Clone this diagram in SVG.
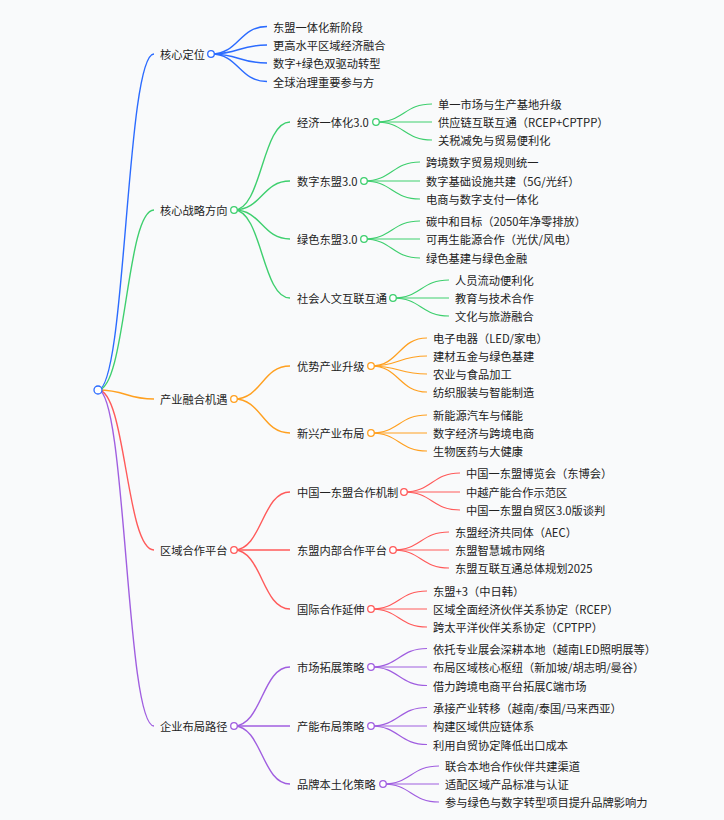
<svg xmlns="http://www.w3.org/2000/svg" width="724" height="820" viewBox="0 0 724 820">
<style>
text{font-family:"Noto Sans CJK SC","Noto Sans",sans-serif;font-size:11.25px;fill:#222;dominant-baseline:central}
path{fill:none;stroke-width:1.4}
.lf path{stroke-width:1.2}
circle{fill:#fff;stroke-width:1.3}
.b{stroke:#2b6bff}.g{stroke:#3ecf6e}.o{stroke:#ffa020}.r{stroke:#ff5a5a}.p{stroke:#a05ee0}
</style>
<rect width="724" height="820" fill="#f9fafb"/>
<g id="connectors">
<path class="b" d="M98,390 C126,390 126,54 154,54"/>
<path class="g" d="M98,390 C126,390 126,210 154,210"/>
<path class="o" d="M98,390 C126,390 126,399 154,399"/>
<path class="r" d="M98,390 C126,390 126,550 154,550"/>
<path class="p" d="M98,390 C126,390 126,726 154,726"/>
<path class="b" d="M211,54 C239,54 239,26.5 267,26.5"/>
<path class="b" d="M211,54 C239,54 239,45 267,45"/>
<path class="b" d="M211,54 C239,54 239,63 267,63"/>
<path class="b" d="M211,54 C239,54 239,81.5 267,81.5"/>
<path class="g" d="M234,210 C262,210 262,122 290,122"/>
<path class="g" d="M234,210 C262,210 262,181 290,181"/>
<path class="g" d="M234,210 C262,210 262,239 290,239"/>
<path class="g" d="M234,210 C262,210 262,298 290,298"/>
<path class="o" d="M234,399 C262,399 262,366 290,366"/>
<path class="o" d="M234,399 C262,399 262,433 290,433"/>
<path class="r" d="M234,550 C262,550 262,492 290,492"/>
<path class="r" d="M234,550 C262,550 262,550 290,550"/>
<path class="r" d="M234,550 C262,550 262,609 290,609"/>
<path class="p" d="M234,726 C262,726 262,667 290,667"/>
<path class="p" d="M234,726 C262,726 262,726 290,726"/>
<path class="p" d="M234,726 C262,726 262,784 290,784"/>
<g class="lf">
<path class="g" d="M376,122 C404,122 404,104 432,104"/>
<path class="g" d="M376,122 C404,122 404,122 432,122"/>
<path class="g" d="M376,122 C404,122 404,140 432,140"/>
<path class="g" d="M364,181 C392,181 392,162 420,162"/>
<path class="g" d="M364,181 C392,181 392,181 420,181"/>
<path class="g" d="M364,181 C392,181 392,199 420,199"/>
<path class="g" d="M364,239 C392,239 392,221 420,221"/>
<path class="g" d="M364,239 C392,239 392,239 420,239"/>
<path class="g" d="M364,239 C392,239 392,258 420,258"/>
<path class="g" d="M393,298 C421,298 421,280 449,280"/>
<path class="g" d="M393,298 C421,298 421,298 449,298"/>
<path class="g" d="M393,298 C421,298 421,316 449,316"/>
<path class="o" d="M371,366 C399,366 399,338 427,338"/>
<path class="o" d="M371,366 C399,366 399,356 427,356"/>
<path class="o" d="M371,366 C399,366 399,374 427,374"/>
<path class="o" d="M371,366 C399,366 399,392 427,392"/>
<path class="o" d="M371,433 C399,433 399,415 427,415"/>
<path class="o" d="M371,433 C399,433 399,433 427,433"/>
<path class="o" d="M371,433 C399,433 399,451 427,451"/>
<path class="r" d="M404,492 C432,492 432,473 460,473"/>
<path class="r" d="M404,492 C432,492 432,492 460,492"/>
<path class="r" d="M404,492 C432,492 432,510 460,510"/>
<path class="r" d="M393,550 C421,550 421,532 449,532"/>
<path class="r" d="M393,550 C421,550 421,550 449,550"/>
<path class="r" d="M393,550 C421,550 421,568 449,568"/>
<path class="r" d="M371,609 C399,609 399,591 427,591"/>
<path class="r" d="M371,609 C399,609 399,609 427,609"/>
<path class="r" d="M371,609 C399,609 399,627 427,627"/>
<path class="p" d="M371,667 C399,667 399,648.5 427,648.5"/>
<path class="p" d="M371,667 C399,667 399,667 427,667"/>
<path class="p" d="M371,667 C399,667 399,685.5 427,685.5"/>
<path class="p" d="M371,726 C399,726 399,707.5 427,707.5"/>
<path class="p" d="M371,726 C399,726 399,726 427,726"/>
<path class="p" d="M371,726 C399,726 399,744.5 427,744.5"/>
<path class="p" d="M383,784 C411,784 411,766 439,766"/>
<path class="p" d="M383,784 C411,784 411,784 439,784"/>
<path class="p" d="M383,784 C411,784 411,802 439,802"/>
</g>
</g>
<g id="root"><circle class="b" cx="98" cy="390" r="4" stroke-width="1.5"/></g>
<g id="n1"><text x="160" y="54">核心定位</text><circle class="b" cx="211" cy="54" r="3.3"/></g>
<g id="n1-1"><text x="273" y="26.5">东盟一体化新阶段</text></g>
<g id="n1-2"><text x="273" y="45">更高水平区域经济融合</text></g>
<g id="n1-3"><text x="273" y="63">数字+绿色双驱动转型</text></g>
<g id="n1-4"><text x="273" y="81.5">全球治理重要参与方</text></g>
<g id="n2"><text x="160" y="210">核心战略方向</text><circle class="g" cx="234" cy="210" r="3.3"/></g>
<g id="n2-1"><text x="297" y="122">经济一体化3.0</text><circle class="g" cx="376" cy="122" r="3.3"/></g>
<g id="n2-1-1"><text x="438" y="104">单一市场与生产基地升级</text></g>
<g id="n2-1-2"><text x="438" y="122">供应链互联互通（RCEP+CPTPP）</text></g>
<g id="n2-1-3"><text x="438" y="140">关税减免与贸易便利化</text></g>
<g id="n2-2"><text x="297" y="181">数字东盟3.0</text><circle class="g" cx="364" cy="181" r="3.3"/></g>
<g id="n2-2-1"><text x="426" y="162">跨境数字贸易规则统一</text></g>
<g id="n2-2-2"><text x="426" y="181">数字基础设施共建（5G/光纤）</text></g>
<g id="n2-2-3"><text x="426" y="199">电商与数字支付一体化</text></g>
<g id="n2-3"><text x="297" y="239">绿色东盟3.0</text><circle class="g" cx="364" cy="239" r="3.3"/></g>
<g id="n2-3-1"><text x="426" y="221">碳中和目标（2050年净零排放）</text></g>
<g id="n2-3-2"><text x="426" y="239">可再生能源合作（光伏/风电）</text></g>
<g id="n2-3-3"><text x="426" y="258">绿色基建与绿色金融</text></g>
<g id="n2-4"><text x="297" y="298">社会人文互联互通</text><circle class="g" cx="393" cy="298" r="3.3"/></g>
<g id="n2-4-1"><text x="455" y="280">人员流动便利化</text></g>
<g id="n2-4-2"><text x="455" y="298">教育与技术合作</text></g>
<g id="n2-4-3"><text x="455" y="316">文化与旅游融合</text></g>
<g id="n3"><text x="160" y="399">产业融合机遇</text><circle class="o" cx="234" cy="399" r="3.3"/></g>
<g id="n3-1"><text x="297" y="366">优势产业升级</text><circle class="o" cx="371" cy="366" r="3.3"/></g>
<g id="n3-1-1"><text x="433" y="338">电子电器（LED/家电）</text></g>
<g id="n3-1-2"><text x="433" y="356">建材五金与绿色基建</text></g>
<g id="n3-1-3"><text x="433" y="374">农业与食品加工</text></g>
<g id="n3-1-4"><text x="433" y="392">纺织服装与智能制造</text></g>
<g id="n3-2"><text x="297" y="433">新兴产业布局</text><circle class="o" cx="371" cy="433" r="3.3"/></g>
<g id="n3-2-1"><text x="433" y="415">新能源汽车与储能</text></g>
<g id="n3-2-2"><text x="433" y="433">数字经济与跨境电商</text></g>
<g id="n3-2-3"><text x="433" y="451">生物医药与大健康</text></g>
<g id="n4"><text x="160" y="550">区域合作平台</text><circle class="r" cx="234" cy="550" r="3.3"/></g>
<g id="n4-1"><text x="297" y="492">中国一东盟合作机制</text><circle class="r" cx="404" cy="492" r="3.3"/></g>
<g id="n4-1-1"><text x="466" y="473">中国一东盟博览会（东博会）</text></g>
<g id="n4-1-2"><text x="466" y="492">中越产能合作示范区</text></g>
<g id="n4-1-3"><text x="466" y="510">中国一东盟自贸区3.0版谈判</text></g>
<g id="n4-2"><text x="297" y="550">东盟内部合作平台</text><circle class="r" cx="393" cy="550" r="3.3"/></g>
<g id="n4-2-1"><text x="455" y="532">东盟经济共同体（AEC）</text></g>
<g id="n4-2-2"><text x="455" y="550">东盟智慧城市网络</text></g>
<g id="n4-2-3"><text x="455" y="568">东盟互联互通总体规划2025</text></g>
<g id="n4-3"><text x="297" y="609">国际合作延伸</text><circle class="r" cx="371" cy="609" r="3.3"/></g>
<g id="n4-3-1"><text x="433" y="591">东盟+3（中日韩）</text></g>
<g id="n4-3-2"><text x="433" y="609">区域全面经济伙伴关系协定（RCEP）</text></g>
<g id="n4-3-3"><text x="433" y="627">跨太平洋伙伴关系协定（CPTPP）</text></g>
<g id="n5"><text x="160" y="726">企业布局路径</text><circle class="p" cx="234" cy="726" r="3.3"/></g>
<g id="n5-1"><text x="297" y="667">市场拓展策略</text><circle class="p" cx="371" cy="667" r="3.3"/></g>
<g id="n5-1-1"><text x="433" y="648.5">依托专业展会深耕本地（越南LED照明展等）</text></g>
<g id="n5-1-2"><text x="433" y="667">布局区域核心枢纽（新加坡/胡志明/曼谷）</text></g>
<g id="n5-1-3"><text x="433" y="685.5">借力跨境电商平台拓展C端市场</text></g>
<g id="n5-2"><text x="297" y="726">产能布局策略</text><circle class="p" cx="371" cy="726" r="3.3"/></g>
<g id="n5-2-1"><text x="433" y="707.5">承接产业转移（越南/泰国/马来西亚）</text></g>
<g id="n5-2-2"><text x="433" y="726">构建区域供应链体系</text></g>
<g id="n5-2-3"><text x="433" y="744.5">利用自贸协定降低出口成本</text></g>
<g id="n5-3"><text x="297" y="784">品牌本土化策略</text><circle class="p" cx="383" cy="784" r="3.3"/></g>
<g id="n5-3-1"><text x="445" y="766">联合本地合作伙伴共建渠道</text></g>
<g id="n5-3-2"><text x="445" y="784">适配区域产品标准与认证</text></g>
<g id="n5-3-3"><text x="445" y="802">参与绿色与数字转型项目提升品牌影响力</text></g>
</svg>
